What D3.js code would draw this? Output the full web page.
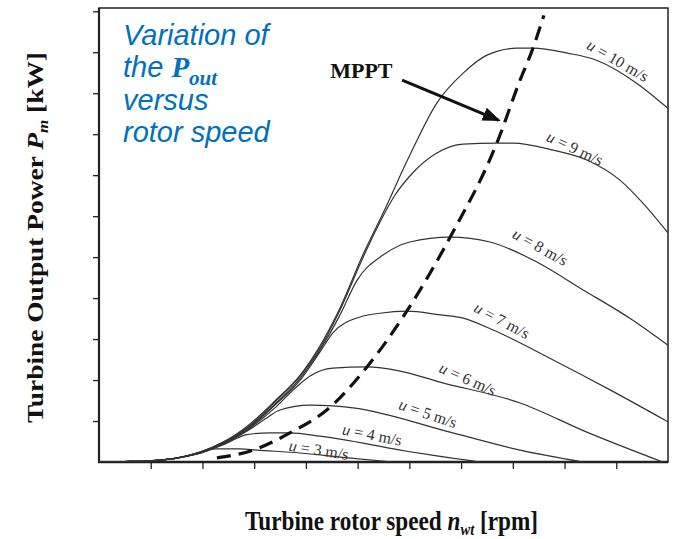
<!DOCTYPE html>
<html>
<head>
<meta charset="utf-8">
<script src="https://cdn.jsdelivr.net/npm/d3@7"></script>
<style>
  body { margin: 0; background: #fff; }
  svg { display: block; }
</style>
</head>
<body>
<svg width="679" height="539"></svg>
<script>
// rotor speed ticks (no labels in the original) and power ticks
const xTicks = [10, 20, 30, 40, 50, 60, 70, 80, 90, 100];
const yTicks = [1, 2, 3, 4, 5, 6, 7, 8, 9, 10, 11];

// wind speeds and their labels
const windSpeeds = [3, 4, 5, 6, 7, 8, 9, 10];
const speedLabels = ['3 m/s', '4 m/s', '5 m/s', '6 m/s', '7 m/s', '8 m/s', '9 m/s', '10 m/s'];

// power curves [rotor speed, power]
const powerU3 = [[0, 0], [5.0, 0.01], [9.9, 0.03], [14.7, 0.09], [19.5, 0.21], [22.4, 0.32], [27.3, 0.32], [30.5, 0.29], [38.9, 0.22], [46.6, 0.12], [56.8, 0]];
const powerU4 = [[0, 0], [5.0, 0.01], [9.9, 0.03], [14.7, 0.09], [19.5, 0.22], [24.4, 0.44], [28.6, 0.67], [33.1, 0.71], [36.9, 0.71], [42.7, 0.63], [46.6, 0.56], [58.2, 0.29], [73.7, 0]];
const powerU5 = [[0, 0], [5.0, 0.01], [9.9, 0.03], [14.7, 0.09], [19.5, 0.22], [24.4, 0.46], [29.2, 0.80], [32.1, 1.05], [35.0, 1.27], [40.8, 1.39], [45.2, 1.37], [49.1, 1.32], [68.4, 0.71], [81.4, 0.29], [93.6, 0]];
const powerU6 = [[0, 0], [5.0, 0.01], [9.9, 0.03], [14.7, 0.09], [19.5, 0.22], [24.4, 0.46], [29.2, 0.83], [34.0, 1.32], [37.9, 1.80], [40.8, 2.10], [45.2, 2.29], [51.8, 2.32], [58.2, 2.22], [65.9, 1.95], [81.4, 1.44], [94.3, 0.73], [109.0, 0]];
const powerU7 = [[0, 0], [5.0, 0.01], [9.9, 0.03], [14.7, 0.09], [19.5, 0.23], [24.4, 0.49], [29.2, 0.85], [34.0, 1.39], [38.9, 2.00], [42.7, 2.68], [45.2, 3.15], [50.5, 3.54], [54.3, 3.63], [59.5, 3.68], [65.9, 3.59], [70.4, 3.51], [76.2, 3.22], [87.8, 2.49], [98.8, 1.76], [110, 0.98]];
const powerU8 = [[0, 0], [5.0, 0.01], [9.9, 0.03], [14.7, 0.09], [19.5, 0.23], [24.4, 0.49], [29.2, 0.88], [34.0, 1.41], [38.9, 2.05], [42.7, 2.73], [46.6, 3.59], [49.9, 4.44], [54.9, 5.05], [60.1, 5.37], [67.9, 5.49], [75.6, 5.37], [83.9, 4.93], [93.6, 4.20], [103.2, 3.46], [110, 2.85]];
const powerU9 = [[0, 0], [5.0, 0.01], [9.9, 0.03], [14.7, 0.09], [19.5, 0.24], [24.4, 0.51], [29.2, 0.90], [34.0, 1.46], [38.9, 2.10], [42.7, 2.78], [46.6, 3.71], [51.0, 4.98], [54.3, 5.85], [57.2, 6.51], [60.1, 6.98], [65.3, 7.54], [70.4, 7.76], [76.9, 7.78], [80.0, 7.78], [87.8, 7.61], [94.3, 7.37], [100.7, 6.88], [105.5, 6.27], [110, 5.59]];
const powerU10 = [[0, 0], [5.0, 0.01], [9.9, 0.03], [14.7, 0.09], [19.5, 0.24], [24.4, 0.51], [29.2, 0.93], [34.0, 1.49], [38.9, 2.12], [42.7, 2.83], [46.6, 3.76], [51.0, 5.05], [54.9, 6.07], [60.1, 7.49], [65.3, 8.76], [70.4, 9.49], [75.0, 9.93], [80.8, 10.10], [83.9, 10.10], [90.5, 9.98], [96.3, 9.80], [104.0, 9.24], [110, 8.63]];

// maximum power point track
const mpptCurve = [[22.8, 0.10], [29.8, 0.29], [36.9, 0.71], [44.7, 1.34], [51.8, 2.32], [59.5, 3.68], [67.9, 5.49], [76.9, 7.78], [81.4, 9.32], [83.9, 10.10], [86.0, 10.90]];

const curves = [powerU3, powerU4, powerU5, powerU6, powerU7, powerU8, powerU9, powerU10];

// where each wind speed label sits (data coords) and its tilt
const labelPlaces = [
    { x: 42.5, y: 0.30, angle: 9 },
    { x: 52.8, y: 0.67, angle: 11 },
    { x: 63.6, y: 1.19, angle: 19 },
    { x: 71.3, y: 2.03, angle: 24 },
    { x: 77.9, y: 3.46, angle: 28 },
    { x: 85.3, y: 5.25, angle: 29 },
    { x: 92.0, y: 7.66, angle: 25 },
    { x: 100.3, y: 9.80, angle: 30 }
];

const svg = d3.select('svg');
const plotLeft = 99, plotRight = 668, plotTop = 8, plotBottom = 462;

const x = d3.scaleLinear().domain([0, 110]).range([plotLeft, plotRight]);
const y = d3.scaleLinear().domain([0, 11.08]).range([plotBottom, plotTop]);

svg.append('rect').attr('width', 679).attr('height', 539).attr('fill', '#fff');

svg.append('clipPath').attr('id', 'plot')
    .append('rect').attr('x', plotLeft).attr('y', plotTop)
    .attr('width', plotRight - plotLeft).attr('height', plotBottom - plotTop);

// ticks
svg.append('g')
    .attr('transform', `translate(0,${plotBottom})`)
    .call(d3.axisBottom(x).tickValues(xTicks).tickSize(7).tickSizeOuter(0).tickFormat(''))
    .call(g => g.select('.domain').remove())
    .selectAll('line').attr('stroke', '#222').attr('stroke-width', 1.3);

svg.append('g')
    .attr('transform', `translate(${plotLeft},0)`)
    .call(d3.axisLeft(y).tickValues(yTicks).tickSize(6).tickSizeOuter(0).tickFormat(''))
    .call(g => g.select('.domain').remove())
    .selectAll('line').attr('stroke', '#222').attr('stroke-width', 1.3);

// frame
svg.append('rect')
    .attr('x', plotLeft).attr('y', plotTop)
    .attr('width', plotRight - plotLeft).attr('height', plotBottom - plotTop)
    .attr('fill', 'none').attr('stroke', '#222').attr('stroke-width', 1.5);
svg.append('line').attr('x1', plotLeft).attr('x2', plotLeft).attr('y1', plotTop).attr('y2', plotBottom + 1)
    .attr('stroke', '#222').attr('stroke-width', 2.2);
svg.append('line').attr('x1', plotLeft - 1).attr('x2', plotRight).attr('y1', plotBottom).attr('y2', plotBottom)
    .attr('stroke', '#222').attr('stroke-width', 2.6);

const line = d3.line()
    .x(d => x(d[0]))
    .y(d => y(d[1]))
    .curve(d3.curveMonotoneX);

const plot = svg.append('g').attr('clip-path', 'url(#plot)');

plot.selectAll('path.power')
    .data(curves)
    .enter().append('path')
    .attr('class', 'power')
    .attr('d', line)
    .attr('fill', 'none')
    .attr('stroke', '#333')
    .attr('stroke-width', 1.2);

plot.append('path')
    .attr('d', line(mpptCurve))
    .attr('fill', 'none')
    .attr('stroke', '#111')
    .attr('stroke-width', 3.2)
    .attr('stroke-dasharray', '14,8');

// wind speed labels
const labels = svg.selectAll('text.speed')
    .data(windSpeeds)
    .enter().append('text')
    .attr('class', 'speed')
    .attr('transform', (d, i) => `translate(${x(labelPlaces[i].x)},${y(labelPlaces[i].y)}) rotate(${labelPlaces[i].angle})`)
    .attr('text-anchor', 'middle')
    .attr('dy', '0.35em')
    .attr('font-family', '"Liberation Serif", "Times New Roman", serif')
    .attr('font-size', 16)
    .attr('fill', '#333');
labels.append('tspan').attr('font-style', 'italic').text('u');
labels.append('tspan').text((d, i) => ' = ' + speedLabels[i]);

// MPPT annotation
svg.append('defs').append('marker')
    .attr('id', 'head')
    .attr('markerUnits', 'userSpaceOnUse')
    .attr('markerWidth', 18).attr('markerHeight', 14)
    .attr('refX', 16).attr('refY', 7)
    .attr('orient', 'auto')
    .append('path').attr('d', 'M0,0 L18,7 L0,14 Z').attr('fill', '#111');

svg.append('line')
    .attr('x1', x(58.6)).attr('y1', y(9.32))
    .attr('x2', x(77.3)).attr('y2', y(8.34))
    .attr('stroke', '#111').attr('stroke-width', 3)
    .attr('marker-end', 'url(#head)');

svg.append('text')
    .attr('x', x(44.7)).attr('y', y(9.37))
    .attr('font-family', '"Liberation Serif", "Times New Roman", serif')
    .attr('font-weight', 'bold')
    .attr('font-size', 22)
    .attr('fill', '#111')
    .text('MPPT');

// blue note
const note = svg.append('g')
    .attr('fill', '#0070c0')
    .attr('font-family', '"Liberation Sans", Arial, sans-serif')
    .attr('font-style', 'italic')
    .attr('font-size', 29);
note.append('text').attr('x', 123).attr('y', 45).text('Variation of');
const l2 = note.append('text').attr('x', 123).attr('y', 77);
l2.append('tspan').text('the ');
l2.append('tspan').attr('font-family', '"Liberation Serif", serif').attr('font-weight', 'bold').text('P');
l2.append('tspan').attr('font-family', '"Liberation Serif", serif').attr('font-weight', 'bold')
    .attr('font-size', 21).attr('dy', 8).text('out');
note.append('text').attr('x', 123).attr('y', 110).text('versus');
note.append('text').attr('x', 123).attr('y', 142).text('rotor speed');

// axis titles
const xt = svg.append('text')
    .attr('x', 245).attr('y', 530)
    .attr('textLength', 293).attr('lengthAdjust', 'spacingAndGlyphs')
    .attr('font-family', '"Liberation Serif", "Times New Roman", serif')
    .attr('font-weight', 'bold').attr('font-size', 27).attr('fill', '#111');
xt.append('tspan').text('Turbine rotor speed ');
xt.append('tspan').attr('font-style', 'italic').text('n');
xt.append('tspan').attr('font-style', 'italic').attr('font-size', 17).attr('dy', 5).text('wt');
xt.append('tspan').attr('dy', -5).text(' [rpm]');

const yt = svg.append('text')
    .attr('transform', 'translate(43,237.5) rotate(-90)')
    .attr('text-anchor', 'middle')
    .attr('textLength', 371).attr('lengthAdjust', 'spacingAndGlyphs')
    .attr('font-family', '"Liberation Serif", "Times New Roman", serif')
    .attr('font-weight', 'bold').attr('font-size', 24).attr('fill', '#111');
yt.append('tspan').text('Turbine Output Power  ');
yt.append('tspan').attr('font-style', 'italic').text('P');
yt.append('tspan').attr('font-style', 'italic').attr('font-size', 15).attr('dy', 5).text('m');
yt.append('tspan').attr('dy', -5).text('  [kW]');
</script>
</body>
</html>
